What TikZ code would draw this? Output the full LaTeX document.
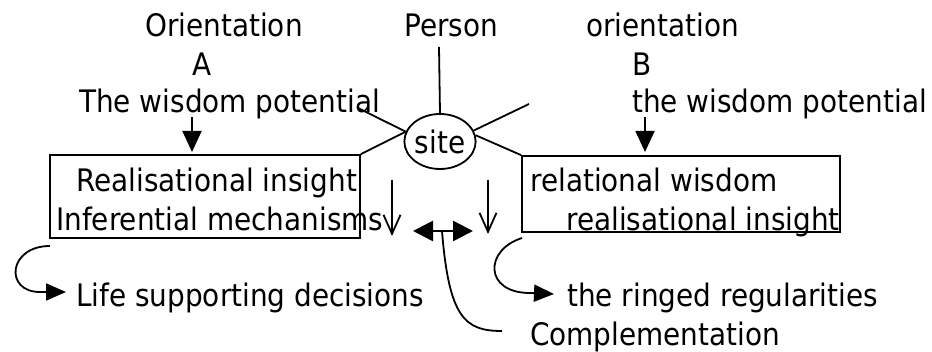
\documentclass[tikz,border=0pt]{standalone}
\usepackage{fontspec}
\setmainfont{DejaVu Sans}[FakeStretch=0.9]
\usetikzlibrary{arrows.meta,shapes.geometric}

\begin{document}
\begin{tikzpicture}[x=1pt,y=-1pt,
  lbl/.style={anchor=base west,inner sep=0pt,font=\fontsize{31}{31}\selectfont},
  conn/.style={line width=1.8pt},
  frame/.style={draw,line width=1.8pt,rectangle,inner sep=0pt},
  solidtip/.style={-{Triangle[length=21pt,width=19pt]}},
  opentip/.style={-{Straight Barb[length=19pt,width=17pt,line width=1.8pt]}},
  bothtips/.style={{Triangle[length=20pt,width=20pt]}-{Triangle[length=20pt,width=20pt]}}]
\useasboundingbox (0,0) rectangle (932,352);

% headings
\node[lbl] (orA)  at (145,37)  {Orientation};
\node[lbl] (lA)   at (192,76)  {A};
\node[lbl] (wpA)  at (79,113)  {The wisdom potential};
\node[lbl] (pers) at (404,37)  {Person};
\node[lbl] (orB)  at (586,37)  {orientation};
\node[lbl] (lB)   at (632,76)  {B};
\node[lbl] (wpB)  at (632,113) {the wisdom potential};

% central ellipse
\node[draw,ellipse,line width=1.8pt,minimum width=68pt,minimum height=55pt,inner sep=0pt,
      font=\fontsize{31}{31}\selectfont] (site) at (440,141.5) {site};

% boxes
\node[frame,minimum width=310pt,minimum height=83pt] (boxA) at (205,196.5) {};
\node[frame,minimum width=318pt,minimum height=76pt] (boxB) at (681,194) {};

\node[lbl] (riA) at (76,192)  {Realisational insight};
\node[lbl] (imA) at (56,231)  {Inferential mechanisms};
\node[lbl] (rwB) at (530,192) {relational wisdom};
\node[lbl] (riB) at (566,231) {realisational insight};

% outcomes
\node[lbl] (life) at (76,307)  {Life supporting decisions};
\node[lbl] (ring) at (567,307) {the ringed regularities};
\node[lbl] (comp) at (530,346) {Complementation};

% free ends of connectors
\coordinate (pTop) at (439,47);
\coordinate (ulEnd) at (358,108);
\coordinate (urEnd) at (529,104);
\coordinate (aTopA) at (192,117);
\coordinate (aTipA) at (192,152);
\coordinate (aTopB) at (645,117);
\coordinate (aTipB) at (645,152);
\coordinate (dLtop) at (392,180);
\coordinate (dLtip) at (392,236);
\coordinate (dRtop) at (488,180);
\coordinate (dRtip) at (488,234);
\coordinate (dblL) at (413,231);
\coordinate (dblR) at (473,231);
\coordinate (dblM) at (442,231);
\coordinate (lfStart) at (50,246);
\coordinate (lfTip) at (66,292);
\coordinate (rgStart) at (522,238);
\coordinate (rgTip) at (554,294);
\coordinate (cmEnd) at (502,331);

% spokes of the site
\draw[conn] (pTop) -- (site.north);
\draw[conn] (site.164) -- (ulEnd);
\draw[conn] (site.164) -- (boxA.north east);
\draw[conn] (site.18) -- (urEnd);
\draw[conn] (site.10) -- (boxB.north west);

% arrows into the boxes
\draw[conn,solidtip] (aTopA) -- (aTipA);
\draw[conn,solidtip] (aTopB) -- (aTipB);

% open arrows and the double arrow
\draw[conn,opentip] (dLtop) -- (dLtip);
\draw[conn,opentip] (dRtop) -- (dRtip);
\draw[line width=2.6pt,bothtips] (dblL) -- (dblR);

% curved connectors
\draw[conn,-{Triangle[length=20pt,width=17pt]}] (lfStart) .. controls (8,246) and (4,292) .. (40,292) -- (lfTip);
\draw[conn,-{Triangle[length=20pt,width=17pt]}] (rgStart) .. controls (484,250) and (484,293) .. (530,293) -- (rgTip);
\draw[conn] (dblM) .. controls (449,318) and (465,331) .. (cmEnd);
\end{tikzpicture}
\end{document}
